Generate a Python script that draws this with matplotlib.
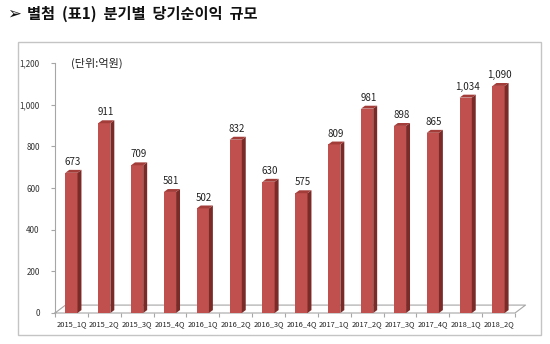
import matplotlib
matplotlib.use("Agg")
import matplotlib.pyplot as plt
from matplotlib.patches import Polygon, Rectangle

plt.rcParams['font.family'] = ['Noto Sans CJK KR', 'DejaVu Sans']

quarters = ['2015_1Q', '2015_2Q', '2015_3Q', '2015_4Q', '2016_1Q', '2016_2Q', '2016_3Q',
            '2016_4Q', '2017_1Q', '2017_2Q', '2017_3Q', '2017_4Q', '2018_1Q', '2018_2Q']
profit = [673, 911, 709, 581, 502, 832, 630, 575, 809, 981, 898, 865, 1034, 1090]
yticks = [0, 200, 400, 600, 800, 1000, 1200]

front = '#c0504d'
side = '#7a2a27'
top = '#a33d3a'
grid_c = '#a6a6a6'

fig = plt.figure(figsize=(5.5, 3.44), dpi=100)
fig.patch.set_facecolor('white')

# chart frame
fig.patches.append(Rectangle((18 / 550, 9 / 344), 523 / 550, 293 / 344, transform=fig.transFigure,
                             fill=False, edgecolor='#c4c4c4', linewidth=1.0))

ax = fig.add_axes([55 / 550, 31 / 344, 460 / 550, 250 / 344])
ax.set_xlim(-0.5, len(quarters) - 0.5)
ax.set_ylim(0, 1200)
for s in ['top', 'right', 'bottom']:
    ax.spines[s].set_visible(False)
ax.spines['left'].set_color(grid_c)
ax.spines['left'].set_linewidth(0.8)

# floor depth (category units / data units)
fdx, fdy = 0.32, 38
n = len(quarters)
floor = [(-0.5, 0), (n - 0.5, 0), (n - 0.5 + fdx, fdy), (-0.5 + fdx, fdy), (-0.5, 0)]
ax.plot([p[0] for p in floor], [p[1] for p in floor], color=grid_c, lw=0.8, clip_on=False, zorder=1)

# bars with side and top faces
w = 0.37
bdx, bdy = 0.12, 14
xs = range(n)
ax.bar(xs, profit, width=w, color=front, zorder=3, linewidth=0)
for x, v in zip(xs, profit):
    r = x + w / 2
    l = x - w / 2
    ax.add_patch(Polygon([(r, 0), (r + bdx, bdy), (r + bdx, v + bdy), (r, v)],
                         closed=True, facecolor=side, edgecolor='none', zorder=3, clip_on=False))
    ax.add_patch(Polygon([(l, v), (r, v), (r + bdx, v + bdy), (l + bdx, v + bdy)],
                         closed=True, facecolor=top, edgecolor='none', zorder=3, clip_on=False))
    ax.text(x + 0.04, v + 28, f'{v:,}', ha='center', va='bottom', fontsize=7, color='#222222')

ax.set_yticks(yticks)
ax.set_yticklabels([f'{t:,}' for t in yticks], fontsize=5.8, color='#333333')
ax.set_xticks(list(xs))
ax.set_xticklabels(quarters, fontsize=5.4, color='#222222')
ax.set_xticks([i - 0.5 for i in range(n + 1)], minor=True)
ax.tick_params(axis='x', which='major', length=0, pad=5)
ax.tick_params(axis='x', which='minor', length=3, color=grid_c, width=0.8)
ax.tick_params(axis='y', length=3, color=grid_c, width=0.8, pad=8)

ax.text(0.0, 1200, '(단위:억원)', fontsize=8, color='#222222', va='center', ha='left')

# title
fig.text(7 / 550, 1 - 14 / 344, '➢', fontsize=12, family=['DejaVu Sans'],
         va='center', ha='left', color='#111111')
fig.text(27 / 550, 1 - 14 / 344, '별첨  (표1)  분기별  당기순이익  규모', fontsize=11,
         fontweight='bold', va='center', ha='left', color='#111111')

fig.savefig('out.png', dpi=100, facecolor='white')
